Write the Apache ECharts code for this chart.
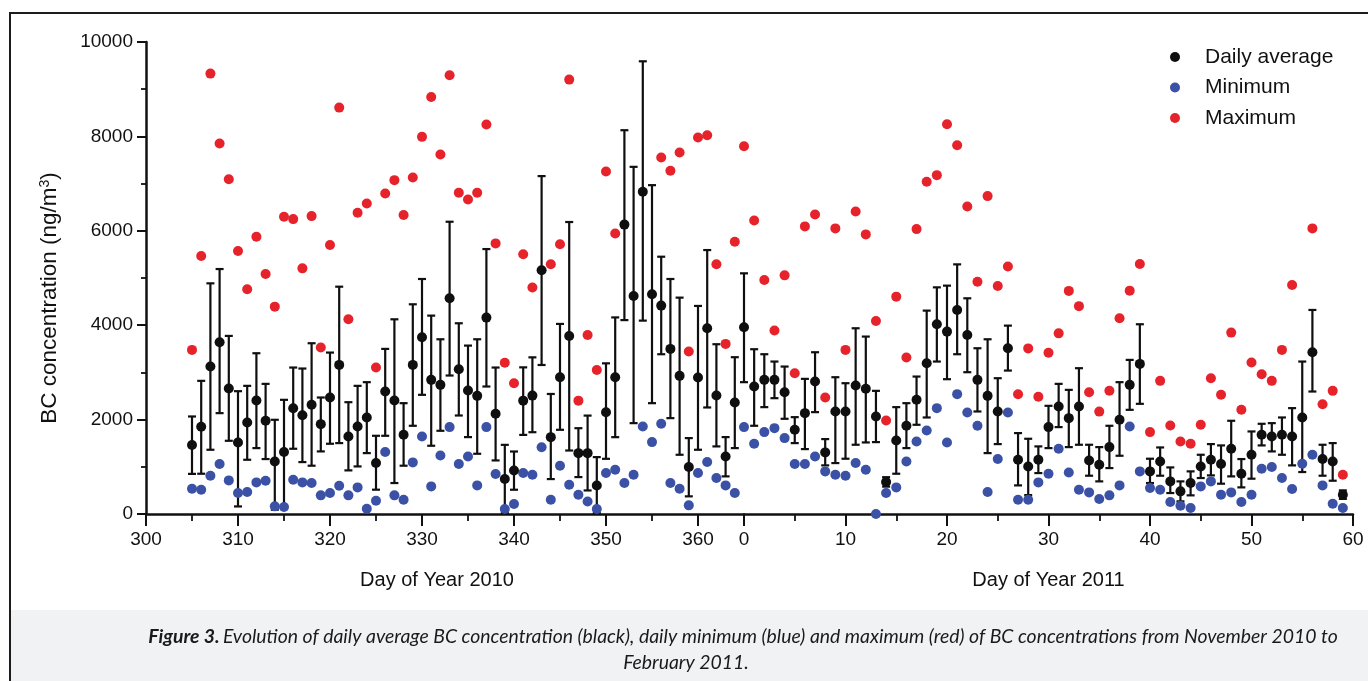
<!DOCTYPE html>
<html>
<head>
<meta charset="utf-8">
<script src="https://cdn.jsdelivr.net/npm/echarts@6/dist/echarts.min.js"></script>
<style>
html,body{margin:0;padding:0;background:#fff;}
#chart{width:1368px;height:681px;}
</style>
</head>
<body>
<div id="chart"></div>
<script>
// ---- Data: 2010 (day of year 305..365) ----
const days2010 = [305,306,307,308,309,310,311,312,313,314,315,316,317,318,319,320,321,322,323,324,325,326,327,328,329,330,331,332,333,334,335,336,337,338,339,340,341,342,343,344,345,346,347,348,349,350,351,352,353,354,355,356,357,358,359,360,361,362,363,364,365];
const avg2010 = [1460,1850,3124,3639,2659,1516,1939,2405,1975,1114,1312,2242,2094,2313,1904,2468,3159,1643,1855,2045,1079,2595,2405,1678,3159,3745,2842,2736,4570,3068,2616,2503,4161,2123,740,922,2402,2508,5165,1628,2896,3770,1289,1289,605,2156,2896,6131,4619,6826,4654,4415,3498,2927,994,2891,3935,2511,1220,2362,3956];
const errLow2010 = [850,853,1361,2137,1551,160,1149,1396,1164,90,127,1382,1100,1023,1326,1488,1502,924,1008,1290,515,1657,656,1023,1869,2525,1446,1763,2934,2087,1629,1276,2701,1135,21,514,1676,1733,3157,740,1784,1345,782,499,21,1169,1628,4108,1925,4097,2348,3385,2031,1255,374,1361,2257,1432,797,1396,2793];
const errHigh2010 = [2066,2821,4887,5190,3773,2602,2715,3406,2757,1996,2419,3103,3082,3618,2468,3420,4816,2369,2715,2793,1657,3498,4125,2348,4443,4979,4203,3702,6192,4041,3568,3702,5613,3103,1465,1324,3107,3319,7159,2543,4027,6186,1818,2085,1205,3192,4165,8131,7355,9591,6967,5451,4979,4584,1608,4408,5592,3597,1629,3322,5099];
const min2010 = [536,515,811,1059,712,444,465,670,705,162,148,726,670,656,395,444,600,395,564,113,282,1312,395,303,1093,1643,585,1241,1841,1058,1220,606,1841,846,106,211,867,831,1416,302,1021,619,408,266,106,867,937,656,832,1855,1523,1911,656,536,183,867,1100,762,606,444,1841];
const max2010 = [3477,5465,9330,7849,7094,5571,4760,5874,5084,4393,6297,6248,5204,6311,3526,5698,8610,4125,6382,6579,3103,6791,7073,6333,7129,7990,8836,7616,9295,6805,6664,6805,8251,5733,3205,2770,5503,4799,null,5292,5715,9203,2402,3791,3051,7258,5941,null,null,null,null,7553,7271,7659,3441,7976,8025,5292,3604,5768,7793];

// ---- Data: 2011 (day of year 1..59) ----
const days2011 = [1,2,3,4,5,6,7,8,9,10,11,12,13,14,15,16,17,18,19,20,21,22,23,24,25,26,27,28,29,30,31,32,33,34,35,36,37,38,39,40,41,42,43,44,45,46,47,48,49,50,51,52,53,54,55,56,57,58,59];
const avg2011 = [2701,2842,2842,2581,1784,2137,2807,1305,2172,2172,2722,2652,2066,677,1558,1869,2419,3195,4020,3864,4323,3794,2842,2503,2172,3512,1149,1008,1149,1841,2278,2031,2278,1135,1044,1417,1996,2736,3180,903,1114,691,480,656,1008,1149,1058,1382,853,1255,1678,1643,1678,1643,2045,3427,1164,1114,409];
const errLow2011 = [1869,2264,2454,2017,1502,1375,2158,1030,1079,1171,1467,1516,1523,580,853,1396,1890,2045,3230,2856,3385,3004,2172,1290,1481,3039,606,400,867,1396,1841,1417,1467,811,691,973,1234,2207,2334,656,811,444,268,395,762,818,642,797,564,748,1453,1326,1255,1030,889,2595,811,705,320];
const errHigh2011 = [3491,3385,3230,3124,2052,2863,3427,1587,2898,2771,3935,3759,2609,780,2264,2348,2912,4309,4802,4838,5289,4570,3512,3702,2877,3991,1714,1594,1432,2292,2757,2630,3089,1467,1417,1869,2793,3265,4020,1171,1410,987,691,903,1255,1481,1453,1975,1164,1749,1911,1925,2045,2243,3230,4323,1467,1502,500];
const min2011 = [1488,1735,1819,1608,1058,1058,1220,903,832,811,1079,938,0,444,564,1114,1537,1770,2243,1516,2539,2151,1869,465,1164,2151,303,303,670,853,1382,881,515,458,317,395,606,1855,903,550,515,254,176,127,585,691,409,458,254,409,959,994,762,529,1065,1255,606,219,127];
const max2011 = [6220,4958,3886,5056,2983,6093,6347,2468,6051,3477,6410,5924,4090,1982,4605,3314,6036,7038,7179,8258,7813,6516,4920,6735,4830,5245,2537,3509,2486,3417,3827,4727,4404,2579,2169,2613,4146,4732,5296,1735,2821,1876,1537,1488,1890,2877,2525,3843,2207,3209,2962,2821,3477,4852,null,6051,2327,2609,832];

// ---- Tick / axis settings ----
const xTicks2010 = {min: 300, max: 365, interval: 10};
const xTicks2011 = {min: 0, max: 60, interval: 10};
const yTicks = {min: 0, max: 10000, interval: 2000};

const C_AVG = '#0f0f0f', C_MIN = '#3a51a6', C_MAX = '#e6232b';
const FONT = "'Liberation Sans', Arial, Helvetica, sans-serif";
const CAP_FONT = "Lato, sans-serif";

function pairs(xs, ys){ const out=[]; xs.forEach((x,i)=>{ if(ys[i]!==null && ys[i]!==undefined) out.push([x, ys[i]]); }); return out; }
function triples(xs, lo, hi){ return xs.map((x,i)=>[x, lo[i], hi[i]]); }

function errRender(params, api){
  const x = api.value(0), lo = api.value(1), hi = api.value(2);
  const a = api.coord([x, lo]), b = api.coord([x, hi]);
  const hw = 4;
  const st = {stroke: C_AVG, lineWidth: 2.2};
  return {type:'group', children:[
    {type:'line', shape:{x1:a[0], y1:a[1], x2:b[0], y2:b[1]}, style:st},
    {type:'line', shape:{x1:b[0]-hw, y1:b[1], x2:b[0]+hw, y2:b[1]}, style:st},
    {type:'line', shape:{x1:a[0]-hw, y1:a[1], x2:a[0]+hw, y2:a[1]}, style:st}
  ]};
}

function majorX(grid, t, name, pad){
  return {gridIndex:grid, type:'value', position:'bottom', min:t.min, max:t.max, interval:t.interval,
    axisLine:{show:true, onZero:false, lineStyle:{color:'#111', width:2.5}},
    axisTick:{show:true, length:12, lineStyle:{color:'#111', width:2}},
    axisLabel:{show:true, margin:16, fontSize:19, color:'#111', fontFamily:FONT,
      formatter: v => (v===365 ? '' : String(v))},
    splitLine:{show:false},
    name:name, nameLocation:'middle', nameGap:56,
    nameTextStyle:{fontSize:20, color:'#111', fontFamily:FONT, padding:pad}};
}
function minorX(grid, t){
  return {gridIndex:grid, type:'value', position:'bottom', min:t.min, max:t.max, interval:5,
    axisLine:{show:false, onZero:false}, axisTick:{show:true, length:7, lineStyle:{color:'#111', width:1.8}},
    axisLabel:{show:false}, splitLine:{show:false}};
}

const chart = echarts.init(document.getElementById('chart'), null, {renderer:'canvas'});

const series = [];
[[0,0,days2010,avg2010,errLow2010,errHigh2010,min2010,max2010],[2,1,days2011,avg2011,errLow2011,errHigh2011,min2011,max2011]].forEach(s=>{
  const [xi,yi,d,av,lo,hi,mn,mx] = s;
  series.push({type:'custom', name:'Daily average', xAxisIndex:xi, yAxisIndex:yi, renderItem:errRender,
    encode:{x:0, y:[1,2]}, data:triples(d,lo,hi), z:2, silent:true});
  series.push({type:'scatter', name:'Maximum', xAxisIndex:xi, yAxisIndex:yi, data:pairs(d,mx),
    symbol:'circle', symbolSize:10, itemStyle:{color:C_MAX, opacity:1}, z:3});
  series.push({type:'scatter', name:'Minimum', xAxisIndex:xi, yAxisIndex:yi, data:pairs(d,mn),
    symbol:'circle', symbolSize:10, itemStyle:{color:C_MIN, opacity:1}, z:3});
  series.push({type:'scatter', name:'Daily average', xAxisIndex:xi, yAxisIndex:yi, data:pairs(d,av),
    symbol:'circle', symbolSize:10, itemStyle:{color:C_AVG, opacity:1}, z:4});
});

chart.setOption({
  animation:false,
  backgroundColor:'#ffffff',
  textStyle:{fontFamily:FONT},
  grid:[
    {left:146, top:42, width:598, height:472, containLabel:false},
    {left:744, top:42, width:609, height:472, containLabel:false}
  ],
  xAxis:[
    majorX(0, xTicks2010, 'Day of Year 2010', [0,16,0,0]),
    minorX(0, xTicks2010),
    majorX(1, xTicks2011, 'Day of Year 2011', [0,0,0,0]),
    minorX(1, xTicks2011)
  ],
  yAxis:[
    {gridIndex:0, type:'value', min:yTicks.min, max:yTicks.max, interval:yTicks.interval,
      axisLine:{show:true, lineStyle:{color:'#111', width:2.5}},
      axisTick:{show:true, length:9, lineStyle:{color:'#111', width:2}},
      minorTick:{show:true, splitNumber:2, length:5, lineStyle:{color:'#111', width:1.8}},
      axisLabel:{fontSize:19, color:'#111', margin:13, fontFamily:FONT, formatter: v => String(v)},
      splitLine:{show:false}},
    {gridIndex:1, type:'value', min:yTicks.min, max:yTicks.max, interval:yTicks.interval, show:false}
  ],
  legend:{
    data:[{name:'Daily average', icon:'circle', itemStyle:{color:C_AVG}},
          {name:'Minimum', icon:'circle', itemStyle:{color:C_MIN}},
          {name:'Maximum', icon:'circle', itemStyle:{color:C_MAX}}],
    orient:'vertical', left:1165, top:40, itemWidth:50, itemHeight:10, itemGap:6.5,
    textStyle:{fontSize:21, color:'#111', fontFamily:FONT, lineHeight:24},
    selectedMode:false
  },
  graphic:[
    {type:'rect', shape:{x:11, y:610, width:1360, height:80}, style:{fill:'#f1f2f4'}, z:-10, silent:true},
    {type:'rect', shape:{x:10, y:13, width:1400, height:700}, style:{fill:null, stroke:'#1c1c1c', lineWidth:2}, z:-5, silent:true},
    {type:'text', x:50, y:298, rotation:Math.PI/2, silent:true,
      style:{text:'{a|BC concentration (ng/m}{s|3}{a|)}', align:'center', verticalAlign:'middle',
        rich:{a:{fontSize:22.5, fontFamily:FONT, fill:'#111'}, s:{fontSize:14, fontFamily:FONT, fill:'#111', verticalAlign:'top'}}}},
    {type:'text', x:743, y:637, silent:true,
      style:{text:'{b|Figure 3.} {i|Evolution of daily average BC concentration (black), daily minimum (blue) and maximum (red) of BC concentrations from November 2010 to}',
        align:'center', verticalAlign:'middle',
        rich:{b:{fontSize:19.4, fontFamily:CAP_FONT, fontStyle:'italic', fontWeight:'bold', fill:'#1a1a1a'},
              i:{fontSize:19.4, fontFamily:CAP_FONT, fontStyle:'italic', fill:'#1a1a1a'}}}},
    {type:'text', x:686, y:663, silent:true,
      style:{text:'February 2011.', align:'center', verticalAlign:'middle', fontSize:19.4, fontFamily:CAP_FONT, fontStyle:'italic', fill:'#1a1a1a'}}
  ],
  series:series
});
</script>
</body>
</html>
